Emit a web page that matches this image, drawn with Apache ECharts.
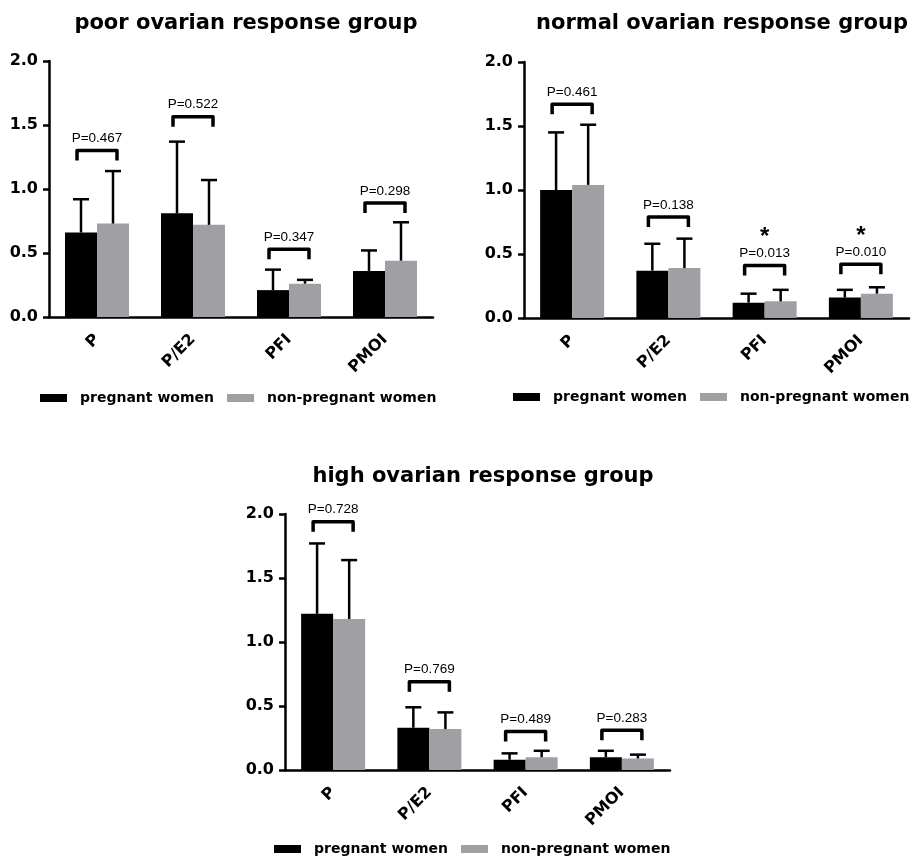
<!DOCTYPE html>
<html>
<head>
<meta charset="utf-8">
<script src="https://cdn.jsdelivr.net/npm/echarts@6/dist/echarts.min.js"></script>
<style>
html, body { margin: 0; padding: 0; background: #fff; }
#main { width: 922px; height: 857px; }
</style>
</head>
<body>
<div id="main"></div>
<script>
var categories = ['P', 'P/E2', 'PFI', 'PMOI'];
var yTicks = [0, 0.5, 1.0, 1.5, 2.0];

// poor ovarian response group
var poorPreg = [0.66, 0.81, 0.21, 0.36];
var poorPregSD = [0.26, 0.56, 0.16, 0.16];
var poorNon = [0.73, 0.72, 0.26, 0.44];
var poorNonSD = [0.41, 0.35, 0.03, 0.30];
var poorPText = ['P=0.467', 'P=0.522', 'P=0.347', 'P=0.298'];
var poorBracket = [1.30, 1.565, 0.53, 0.89];
var poorStar = [false, false, false, false];

// normal ovarian response group
var normalPreg = [1.00, 0.37, 0.12, 0.16];
var normalPregSD = [0.45, 0.21, 0.07, 0.06];
var normalNon = [1.04, 0.39, 0.13, 0.19];
var normalNonSD = [0.47, 0.23, 0.09, 0.05];
var normalPText = ['P=0.461', 'P=0.138', 'P=0.013', 'P=0.010'];
var normalBracket = [1.67, 0.79, 0.41, 0.42];
var normalStar = [false, false, true, true];

// high ovarian response group
var highPreg = [1.22, 0.33, 0.08, 0.10];
var highPregSD = [0.55, 0.16, 0.05, 0.05];
var highNon = [1.18, 0.32, 0.10, 0.09];
var highNonSD = [0.46, 0.13, 0.05, 0.03];
var highPText = ['P=0.728', 'P=0.769', 'P=0.489', 'P=0.283'];
var highBracket = [1.94, 0.69, 0.30, 0.31];
var highStar = [false, false, false, false];

var BLACK = '#000000';
var GRAY = '#a0a0a4';
var BOLD = '"DejaVu Sans", sans-serif';

var panels = [
	{title: 'poor ovarian response group', tx: 241, ty: 8, grid: {left: 49, top: 61, width: 384, height: 256}, legend: {left: 35, top: 386},
		preg: poorPreg, pregSD: poorPregSD, non: poorNon, nonSD: poorNonSD, pText: poorPText, bracket: poorBracket, star: poorStar},
	{title: 'normal ovarian response group', tx: 717, ty: 8, grid: {left: 524, top: 62, width: 385, height: 256}, legend: {left: 508, top: 385},
		preg: normalPreg, pregSD: normalPregSD, non: normalNon, nonSD: normalNonSD, pText: normalPText, bracket: normalBracket, star: normalStar},
	{title: 'high ovarian response group', tx: 478, ty: 461, grid: {left: 285, top: 514, width: 385, height: 256}, legend: {left: 269, top: 837},
		preg: highPreg, pregSD: highPregSD, non: highNon, nonSD: highNonSD, pText: highPText, bracket: highBracket, star: highStar}
];

function errorItem(params, api) {
	var idx = api.value(0);
	var side = api.value(3);
	var p0 = api.coord([idx, api.value(1)]);
	var p1 = api.coord([idx, api.value(2)]);
	var bw = api.size([1, 0])[0];
	var cx = p0[0] + side * bw / 6;
	var st = {stroke: '#000', lineWidth: 2.5};
	return {
		type: 'group',
		children: [
			{type: 'line', shape: {x1: cx, y1: p0[1], x2: cx, y2: p1[1]}, style: st},
			{type: 'line', shape: {x1: cx - 8, y1: p1[1], x2: cx + 8, y2: p1[1]}, style: st}
		]
	};
}

function makeBracket(pText, star) {
	return function(params, api) {
		var idx = api.value(0);
		var p = api.coord([idx, api.value(1)]);
		var cx = p[0], y = p[1];
		var children = [
			{type: 'polyline', shape: {points: [[cx - 20, y + 10], [cx - 20, y], [cx + 20, y], [cx + 20, y + 10]]},
				style: {stroke: '#000', fill: null, lineWidth: 3.5, lineJoin: 'round'}},
			{type: 'text', x: cx, y: y - 12,
				style: {text: pText[params.dataIndex], font: '13.5px "Liberation Sans", Arial, sans-serif', fill: '#000', align: 'center', verticalAlign: 'middle'}}
		];
		if (star[params.dataIndex]) {
			children.push({type: 'text', x: cx, y: y - 28,
				style: {text: '*', font: 'bold 24px "Liberation Sans", Arial, sans-serif', fill: '#000', align: 'center', verticalAlign: 'middle'}});
		}
		return {type: 'group', children: children};
	};
}

var option = {
	animation: false,
	backgroundColor: '#fff',
	title: [],
	legend: [],
	grid: [],
	xAxis: [],
	yAxis: [],
	series: []
};

panels.forEach(function(pn, k) {
	option.title.push({
		text: pn.title, left: pn.tx, top: pn.ty, textAlign: 'center',
		textStyle: {fontFamily: BOLD, fontWeight: 'bold', fontSize: 21, color: '#000'}
	});
	option.legend.push({
		data: ['pregnant women', 'non-pregnant women'],
		left: pn.legend.left, top: pn.legend.top,
		icon: 'rect', itemWidth: 27, itemHeight: 8, itemGap: 13,
		textStyle: {fontFamily: BOLD, fontWeight: 'bold', fontSize: 14, color: '#000', padding: [0, 0, 0, 8]}
	});
	option.grid.push({left: pn.grid.left, top: pn.grid.top, width: pn.grid.width, height: pn.grid.height, containLabel: false});
	option.xAxis.push({
		type: 'category', gridIndex: k, data: categories,
		axisLine: {lineStyle: {color: '#000', width: 2.5}},
		axisTick: {alignWithLabel: true, length: 6, lineStyle: {color: '#000', width: 2.5}},
		axisLabel: {rotate: 45, margin: 20, color: '#000', fontFamily: BOLD, fontWeight: 'bold', fontSize: 16},
		splitLine: {show: false}
	});
	option.yAxis.push({
		type: 'value', gridIndex: k, min: yTicks[0], max: yTicks[yTicks.length - 1], interval: 0.5,
		axisLine: {show: true, lineStyle: {color: '#000', width: 2.5}},
		axisTick: {show: true, length: 6, lineStyle: {color: '#000', width: 2.5}},
		axisLabel: {margin: 11, color: '#000', fontFamily: BOLD, fontWeight: 'bold', fontSize: 16,
			formatter: function(v) { return v.toFixed(1); }},
		splitLine: {show: false}
	});
	option.series.push({
		name: 'pregnant women', type: 'bar', xAxisIndex: k, yAxisIndex: k,
		data: pn.preg, barWidth: 32, barGap: '0%', itemStyle: {color: BLACK}
	});
	option.series.push({
		name: 'non-pregnant women', type: 'bar', xAxisIndex: k, yAxisIndex: k,
		data: pn.non, barWidth: 32, barGap: '0%', itemStyle: {color: GRAY}
	});
	var errData = [];
	pn.preg.forEach(function(v, i) { errData.push([i, v, v + pn.pregSD[i], -1]); });
	pn.non.forEach(function(v, i) { errData.push([i, v, v + pn.nonSD[i], 1]); });
	option.series.push({
		type: 'custom', xAxisIndex: k, yAxisIndex: k, z: 5, silent: true,
		renderItem: errorItem, data: errData, encode: {x: 0, y: [1, 2]}
	});
	option.series.push({
		type: 'custom', xAxisIndex: k, yAxisIndex: k, z: 6, silent: true,
		renderItem: makeBracket(pn.pText, pn.star),
		data: pn.bracket.map(function(h, i) { return [i, h]; })
	});
});

var chart = echarts.init(document.getElementById('main'));
chart.setOption(option);
</script>
</body>
</html>
